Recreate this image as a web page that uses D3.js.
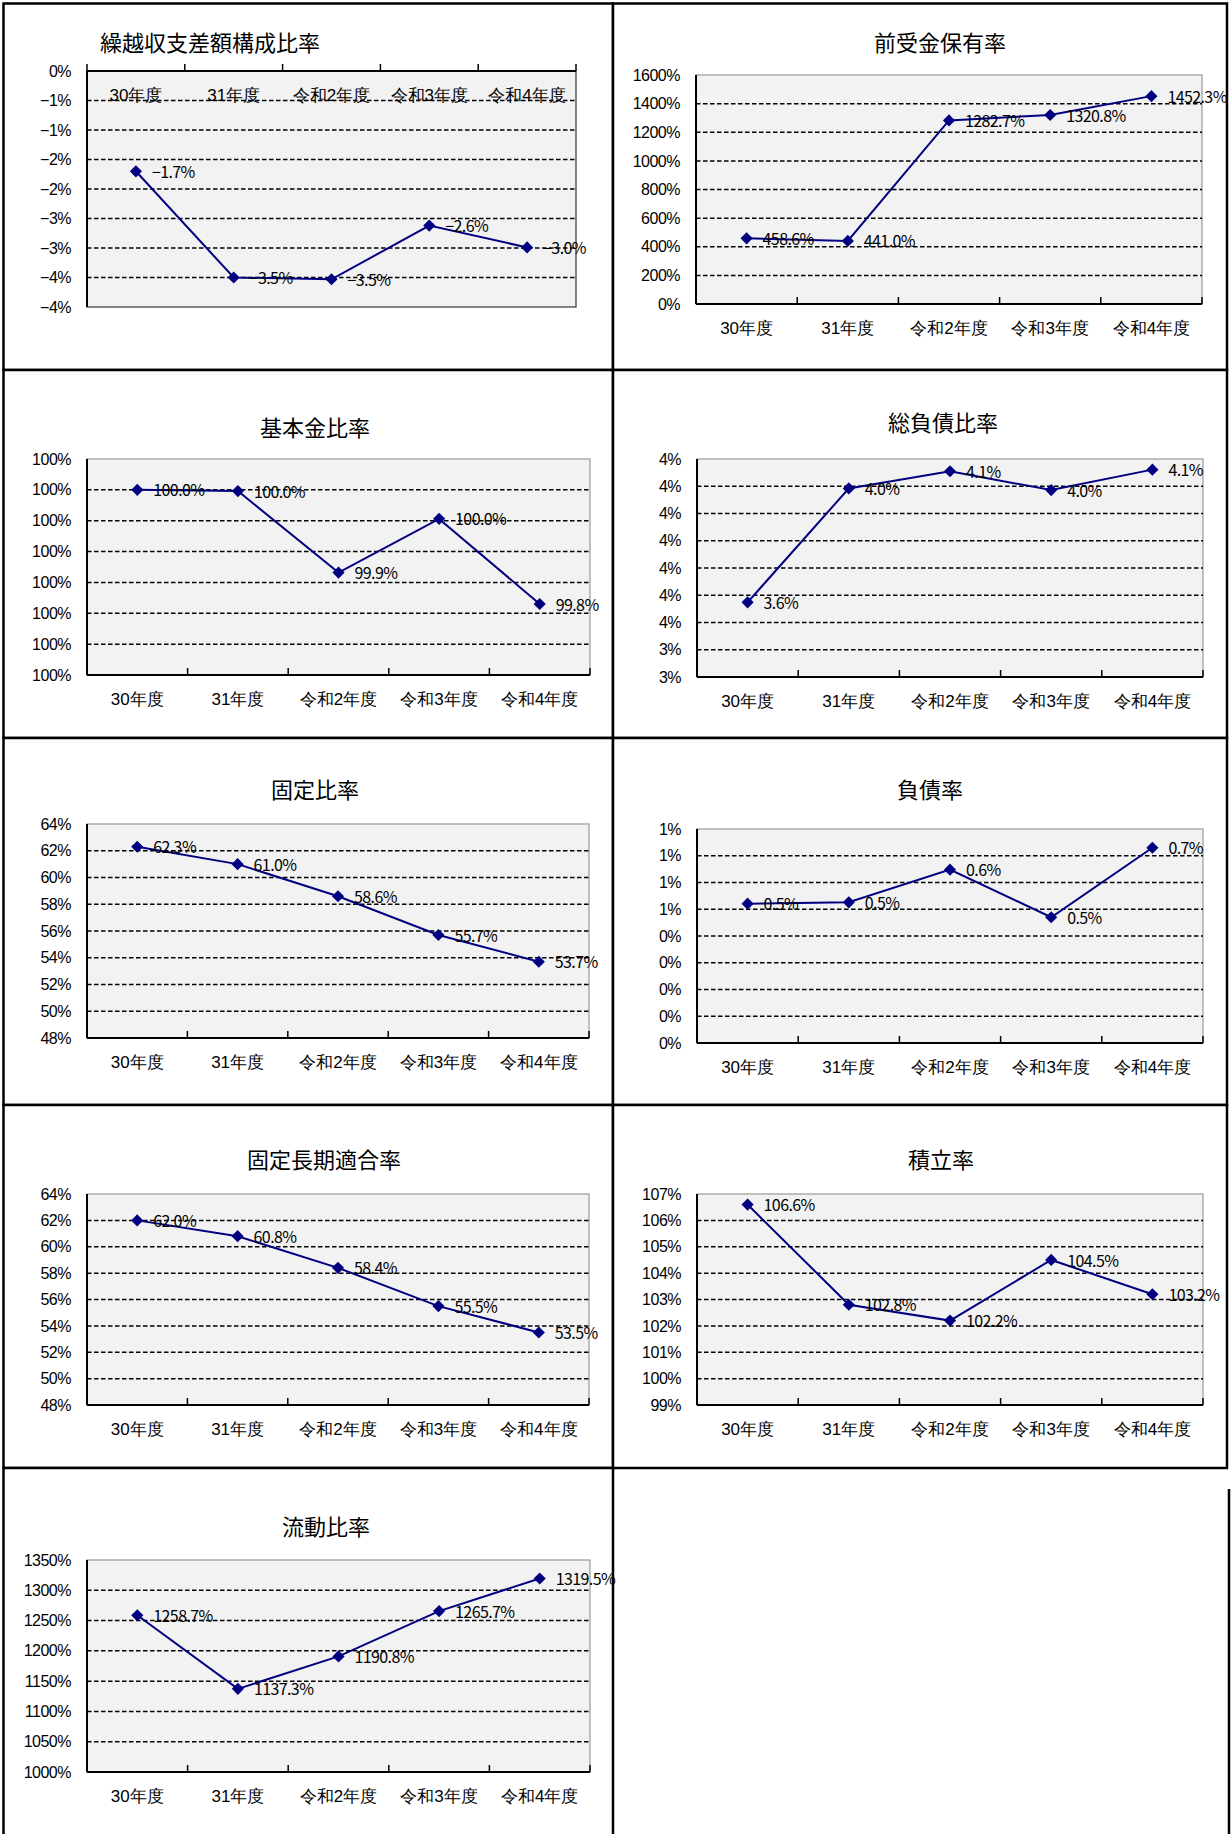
<!DOCTYPE html>
<html lang="ja">
<head>
<meta charset="utf-8">
<script src="https://cdn.jsdelivr.net/npm/d3@7"></script>
<style>
  body { margin: 0; background: #fff; }
  svg { display: block; font-family: "Noto Sans CJK JP", "Noto Sans", sans-serif; }
</style>
</head>
<body>
<svg id="chart" width="1231" height="1834"></svg>
<script>
// categories shared by every chart
const categories = ["30年度", "31年度", "令和2年度", "令和3年度", "令和4年度"];

// series values (percent)
const kurikoshiValues = [-1.70, -3.50, -3.53, -2.62, -2.99];
const maeukeValues = [458.6, 441.0, 1282.7, 1320.8, 1452.3];
const kihonkinValues = [100.00, 99.998, 99.866, 99.953, 99.815];
const sofusaiValues = [3.624, 4.042, 4.105, 4.036, 4.111];
const koteiValues = [62.3, 61.0, 58.6, 55.7, 53.7];
const fusaiValues = [0.521, 0.526, 0.648, 0.470, 0.730];
const koteiChokiValues = [62.0, 60.8, 58.4, 55.5, 53.5];
const tsumitateValues = [106.6, 102.8, 102.2, 104.5, 103.2];
const ryudoValues = [1258.7, 1137.3, 1190.8, 1265.7, 1319.5];

// y tick labels, top to bottom (as printed on the original axes)
const kurikoshiTicks = ["0%", "−1%", "−1%", "−2%", "−2%", "−3%", "−3%", "−4%", "−4%"];
const maeukeTicks = ["1600%", "1400%", "1200%", "1000%", "800%", "600%", "400%", "200%", "0%"];
const kihonkinTicks = ["100%", "100%", "100%", "100%", "100%", "100%", "100%", "100%"];
const sofusaiTicks = ["4%", "4%", "4%", "4%", "4%", "4%", "4%", "3%", "3%"];
const koteiTicks = ["64%", "62%", "60%", "58%", "56%", "54%", "52%", "50%", "48%"];
const fusaiTicks = ["1%", "1%", "1%", "1%", "0%", "0%", "0%", "0%", "0%"];
const koteiChokiTicks = ["64%", "62%", "60%", "58%", "56%", "54%", "52%", "50%", "48%"];
const tsumitateTicks = ["107%", "106%", "105%", "104%", "103%", "102%", "101%", "100%", "99%"];
const ryudoTicks = ["1350%", "1300%", "1250%", "1200%", "1150%", "1100%", "1050%", "1000%"];

// chart settings: panel box, plot box [x0, y0, x1, y1], title position
const charts = [
  { title: "繰越収支差額構成比率", values: kurikoshiValues, ticks: kurikoshiTicks, domain: [-4, 0],
    panel: [3.5, 3.5, 613, 370], plot: [87, 71, 576, 307], titleX: 100, titleY: 43, anchor: "start", border: "#333" },
  { title: "前受金保有率", values: maeukeValues, ticks: maeukeTicks, domain: [0, 1600],
    panel: [613, 3.5, 1227, 370], plot: [696, 75, 1202, 304], titleX: 940, titleY: 43 },
  { title: "基本金比率", values: kihonkinValues, ticks: kihonkinTicks, domain: [99.70, 100.05],
    panel: [3.5, 370, 613, 738], plot: [87, 459, 590, 675], titleX: 315, titleY: 428 },
  { title: "総負債比率", values: sofusaiValues, ticks: sofusaiTicks, domain: [3.35, 4.15],
    panel: [613, 370, 1227, 738], plot: [697, 459, 1203, 677], titleX: 943, titleY: 423 },
  { title: "固定比率", values: koteiValues, ticks: koteiTicks, domain: [48, 64],
    panel: [3.5, 738, 613, 1105], plot: [87, 824, 589, 1038], titleX: 315, titleY: 790 },
  { title: "負債率", values: fusaiValues, ticks: fusaiTicks, domain: [0, 0.8],
    panel: [613, 738, 1227, 1105], plot: [697, 829, 1203, 1043], titleX: 930, titleY: 790 },
  { title: "固定長期適合率", values: koteiChokiValues, ticks: koteiChokiTicks, domain: [48, 64],
    panel: [3.5, 1105, 613, 1468], plot: [87, 1194, 589, 1405], titleX: 324, titleY: 1160 },
  { title: "積立率", values: tsumitateValues, ticks: tsumitateTicks, domain: [99, 107],
    panel: [613, 1105, 1227, 1468], plot: [697, 1194, 1203, 1405], titleX: 941, titleY: 1160 },
  { title: "流動比率", values: ryudoValues, ticks: ryudoTicks, domain: [1000, 1350],
    panel: [3.5, 1468, 613, 1845], plot: [87, 1560, 590, 1772], titleX: 326, titleY: 1527 }
];

const svg = d3.select("#chart");
const navy = "#000080";
const fmt = d3.format(".1f");

charts.forEach(c => {
  const g = svg.append("g");

  // panel frame
  g.append("rect")
    .attr("x", c.panel[0]).attr("y", c.panel[1])
    .attr("width", c.panel[2] - c.panel[0]).attr("height", c.panel[3] - c.panel[1])
    .attr("fill", "#fff").attr("stroke", "#000").attr("stroke-width", 2.5);

  // title
  g.append("text")
    .attr("x", c.titleX).attr("y", c.titleY).attr("dy", "0.35em")
    .attr("text-anchor", c.anchor || "middle")
    .style("font-size", "22px")
    .text(c.title);

  const x = d3.scaleBand().domain(categories).range([c.plot[0], c.plot[2]]);
  const y = d3.scaleLinear().domain(c.domain).range([c.plot[3], c.plot[1]]);

  // plot area
  g.append("rect")
    .attr("x", c.plot[0]).attr("y", c.plot[1])
    .attr("width", c.plot[2] - c.plot[0]).attr("height", c.plot[3] - c.plot[1])
    .attr("fill", "#f2f2f2").attr("stroke", c.border || "#999").attr("stroke-width", 1.2);

  // tick values spread evenly over the domain, top to bottom
  const n = c.ticks.length;
  const tickVals = c.ticks.map((t, i) => c.domain[1] - i * (c.domain[1] - c.domain[0]) / (n - 1));

  // dashed gridlines
  g.selectAll(".grid")
    .data(tickVals.slice(1, -1))
    .enter()
    .append("line")
    .attr("x1", c.plot[0]).attr("x2", c.plot[2])
    .attr("y1", d => y(d)).attr("y2", d => y(d))
    .attr("stroke", "#000").attr("stroke-width", 1.5)
    .attr("stroke-dasharray", "4.5,2.5");

  // y axis
  const yAxis = d3.axisLeft(y)
    .tickValues(tickVals)
    .tickFormat((d, i) => c.ticks[i])
    .tickSize(0)
    .tickPadding(16);
  const ya = g.append("g")
    .attr("transform", `translate(${c.plot[0]},0)`)
    .call(yAxis);
  ya.select(".domain").remove();
  ya.selectAll("text")
    .style("font-size", "16px").style("letter-spacing", "-0.5px")
    .attr("fill", "#000");
  g.append("line")
    .attr("x1", c.plot[0]).attr("x2", c.plot[0])
    .attr("y1", c.plot[1]).attr("y2", c.plot[3])
    .attr("stroke", "#000").attr("stroke-width", 2);

  // category axis crosses at 0 (or at the domain end nearest 0)
  const cross = c.domain[0] >= 0 ? c.domain[0] : (c.domain[1] <= 0 ? c.domain[1] : 0);
  const axisY = y(cross);

  const xAxis = d3.axisBottom(x).tickSize(0).tickPadding(0);
  const xa = g.append("g")
    .attr("transform", `translate(0,${axisY})`)
    .call(xAxis);
  xa.select(".domain").remove();
  xa.selectAll("text")
    .attr("y", 24).attr("dy", "0.35em")
    .style("font-size", "17px").attr("fill", "#000");

  g.append("line")
    .attr("x1", c.plot[0]).attr("x2", c.plot[2])
    .attr("y1", axisY).attr("y2", axisY)
    .attr("stroke", "#000").attr("stroke-width", 2);

  // tick marks between categories
  g.selectAll(".xtick")
    .data(d3.range(categories.length + 1))
    .enter()
    .append("line")
    .attr("x1", i => c.plot[0] + i * x.step()).attr("x2", i => c.plot[0] + i * x.step())
    .attr("y1", axisY).attr("y2", axisY - 7)
    .attr("stroke", "#000").attr("stroke-width", 1.5);

  const cx = (d, i) => x(categories[i]) + x.bandwidth() / 2;

  // series line
  g.append("path")
    .datum(c.values)
    .attr("fill", "none")
    .attr("stroke", navy)
    .attr("stroke-width", 2)
    .attr("d", d3.line().x(cx).y(d => y(d)));

  // diamond markers
  g.selectAll(".pt")
    .data(c.values)
    .enter()
    .append("path")
    .attr("d", d3.symbol().type(d3.symbolSquare).size(74))
    .attr("transform", (d, i) => `translate(${cx(d, i)},${y(d)}) rotate(45)`)
    .attr("fill", navy);

  // data labels
  g.selectAll(".lbl")
    .data(c.values)
    .enter()
    .append("text")
    .attr("x", (d, i) => cx(d, i) + 16)
    .attr("y", d => y(d) + 1)
    .attr("dy", "0.35em")
    .style("font-size", "16px").style("letter-spacing", "-0.6px")
    .text(d => fmt(d) + "%");
});

// right edge of the empty bottom-right cell
svg.append("line")
  .attr("x1", 1229).attr("x2", 1229)
  .attr("y1", 1489).attr("y2", 1834)
  .attr("stroke", "#000").attr("stroke-width", 2.5);
</script>
</body>
</html>
